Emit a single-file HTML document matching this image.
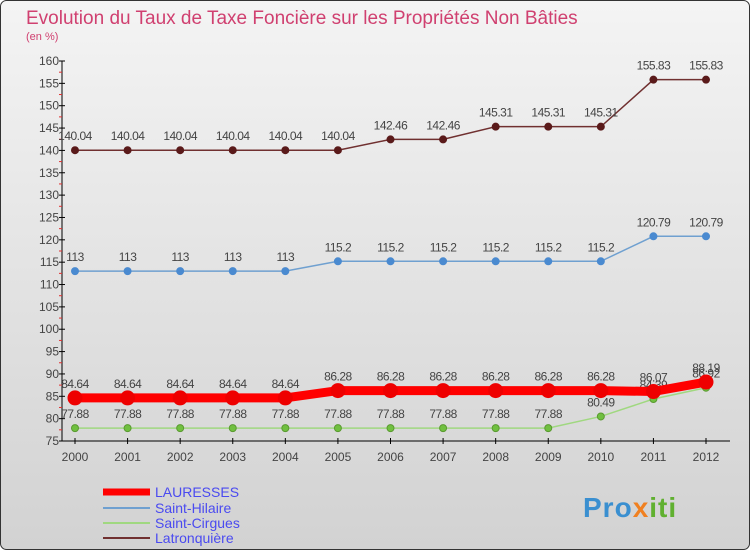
<!DOCTYPE html>
<html><head><meta charset="utf-8"><style>
body{margin:0;}
svg text{font-family:"Liberation Sans",sans-serif;}
</style></head><body>
<svg width="750" height="550" viewBox="0 0 750 550" xmlns="http://www.w3.org/2000/svg">
<defs>
<linearGradient id="bg" x1="0" y1="0" x2="0" y2="1">
<stop offset="0" stop-color="#f4f4f4"/><stop offset="1" stop-color="#d2d2d2"/>
</linearGradient>
</defs>
<rect x="0.5" y="0.5" width="749" height="549" rx="6" fill="url(#bg)" stroke="#333"/>
<text x="26" y="24" font-size="19" fill="#d04070">Evolution du Taux de Taxe Foncière sur les Propriétés Non Bâties</text>
<text x="26" y="40" font-size="11" fill="#d04070">(en %)</text>
<g id="axes"></g>
<g id="series"></g>
<g id="legend"></g>
<g>
<text x="583" y="517" font-size="28" font-weight="bold" fill="#3a8fd0" letter-spacing="1">Pro<tspan fill="#f08020">x</tspan><tspan fill="#60b030">iti</tspan></text>
</g>
</svg>
<script>
const years=[2000,2001,2002,2003,2004,2005,2006,2007,2008,2009,2010,2011,2012];
const yTicks=[75,80,85,90,95,100,105,110,115,120,125,130,135,140,145,150,155,160];
const seriesNames=["LAURESSES","Saint-Hilaire","Saint-Cirgues","Latronquière"];
const laurValues=[84.64,84.64,84.64,84.64,84.64,86.28,86.28,86.28,86.28,86.28,86.28,86.07,88.19];
const hilValues=[113,113,113,113,113,115.2,115.2,115.2,115.2,115.2,115.2,120.79,120.79];
const cirValues=[77.88,77.88,77.88,77.88,77.88,77.88,77.88,77.88,77.88,77.88,80.49,84.39,86.92];
const latValues=[140.04,140.04,140.04,140.04,140.04,140.04,142.46,142.46,145.31,145.31,145.31,155.83,155.83];
const NS="http://www.w3.org/2000/svg";
const X=i=>75+i*(631/12);
const Y=v=>441-(v-75)*(380/85);
function mk(t,a,p){const e=document.createElementNS(NS,t);for(const k in a)e.setAttribute(k,a[k]);p.appendChild(e);return e;}
const ax=document.getElementById('axes');
let e=mk('line',{x1:62,y1:Y(160),x2:62,y2:Y(75),stroke:'#000'},ax);

e=mk('line',{x1:62,y1:Y(75),x2:730,y2:Y(75),stroke:'#000'},ax);

yTicks.forEach(v=>{
 mk('line',{x1:59,y1:Y(v),x2:65,y2:Y(v),stroke:'#000'},ax);
 if(v<160) mk('line',{x1:59,y1:Y(v+2.5),x2:62,y2:Y(v+2.5),stroke:'#e03030'},ax);
 e=mk('text',{x:59,y:Y(v)+4,'font-size':12,'text-anchor':'end',fill:'#444'},ax);e.textContent=v;
 
});
years.forEach((y,i)=>{
 mk('line',{x1:X(i),y1:Y(75)-3,x2:X(i),y2:Y(75)+3,stroke:'#000'},ax);
 e=mk('text',{x:X(i),y:Y(75)+20,'font-size':12,'text-anchor':'middle',fill:'#444'},ax);e.textContent=y;
 
});
const sg=document.getElementById('series');
const defs=[[laurValues,'#ff0000',9,7,'#ee0000'],[hilValues,'#6fa0d0',1.5,3.5,'#4a8ad0'],[cirValues,'#a0d880',1.5,3.5,'#70c040'],[latValues,'#703030',1.5,3.5,'#5a1a1a']];
const order=[2,1,3,0];
order.forEach(si=>{
 const [vals,col,w,r,pc]=defs[si];
 const g=mk('g',{},sg);
 
 e=mk('polyline',{points:vals.map((v,i)=>X(i)+','+Y(v)).join(' '),fill:'none',stroke:col,'stroke-width':w},g);
 
 vals.forEach((v,i)=>{
  e=mk('circle',{cx:X(i),cy:Y(v),r:r,fill:pc,stroke:si==2?'#5a9a30':pc},g);
  
  e=mk('text',{x:X(i),y:Y(v)-10,'font-size':12,'text-anchor':'middle',fill:'#444','letter-spacing':'-0.5'},g);e.textContent=v;
  
 });
});
const lg=document.getElementById('legend');
const lys=[492,508,523,538];
defs.forEach((d,i)=>{
 mk('line',{x1:103,y1:lys[i],x2:150,y2:lys[i],stroke:d[1],'stroke-width':i==0?7:2},lg);
 e=mk('text',{x:155,y:lys[i]+5,'font-size':14,fill:'#4a4af0'},lg);e.textContent=seriesNames[i];
 
});
</script>
</body></html>
